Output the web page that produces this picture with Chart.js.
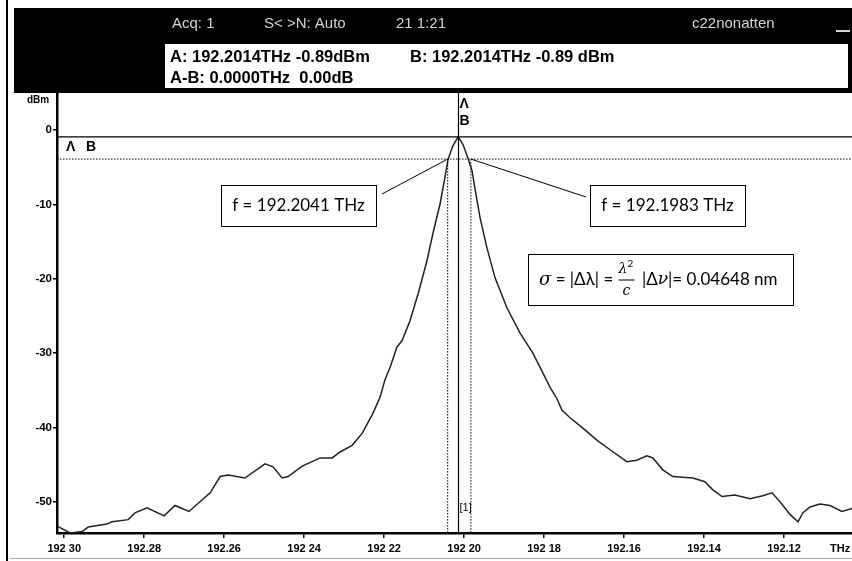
<!DOCTYPE html>
<html>
<head>
<meta charset="utf-8">
<script src="https://cdn.jsdelivr.net/npm/chart.js@4/dist/chart.umd.min.js"></script>
<style>
  html, body { margin: 0; padding: 0; background: #fff; }
  #wrap { width: 852px; height: 561px; position: relative; }
</style>
</head>
<body>
<div id="wrap"><canvas id="chartCanvas"></canvas></div>
<script>
// --- spectrum (THz, dBm) ---
const freq = [
  192.3015, 192.2985, 192.2955, 192.2940, 192.2893, 192.2880, 192.2840, 192.2823, 192.2793, 192.2750,
  192.2723, 192.2688, 192.2635, 192.2610, 192.2590, 192.2548, 192.2498, 192.2478, 192.2455, 192.2440,
  192.2405, 192.2360, 192.2330, 192.2310, 192.2280, 192.2255, 192.2228, 192.2210, 192.2198, 192.2185,
  192.2168, 192.2155, 192.2135, 192.2115, 192.2093, 192.2078, 192.2060, 192.2048, 192.2040, 192.2028,
  192.2015, 192.2003, 192.1990, 192.1980, 192.1973, 192.1960, 192.1943, 192.1923, 192.1893, 192.1860,
  192.1828, 192.1798, 192.1785, 192.1768, 192.1755, 192.1735, 192.1703, 192.1668, 192.1635, 192.1593,
  192.1568, 192.1543, 192.1528, 192.1503, 192.1478, 192.1428, 192.1398, 192.1378, 192.1355, 192.1323,
  192.1285, 192.1253, 192.1230, 192.1210, 192.1185, 192.1165, 192.1153, 192.1135, 192.1110, 192.1085,
  192.1055, 192.1030
];
const level = [
  -53.35, -54.2, -54.0, -53.4, -53.0, -52.7, -52.4, -51.5, -50.8, -51.9,
  -50.5, -51.3, -48.8, -46.6, -46.4, -46.8, -44.9, -45.3, -46.8, -46.6,
  -45.2, -44.1, -44.1, -43.3, -42.4, -40.8, -38.1, -35.9, -33.6, -31.9,
  -29.2, -28.3, -25.6, -22.0, -17.6, -13.9, -9.9, -6.4, -3.9, -2.1,
  -0.9, -1.9, -3.8, -5.5, -7.8, -11.8, -15.8, -19.8, -23.9, -27.3,
  -30.0, -33.2, -34.6, -36.1, -37.7, -38.7, -40.1, -41.7, -43.0, -44.6,
  -44.4, -43.8, -44.1, -45.7, -46.6, -46.8, -47.3, -48.4, -49.3, -49.1,
  -49.6, -49.2, -48.8, -50.0, -51.7, -52.7, -51.5, -50.7, -50.3, -50.5,
  -51.3, -50.9
];

const yTicks = [0, -10, -20, -30, -40, -50];
const xTicks = [192.30, 192.28, 192.26, 192.24, 192.22, 192.20, 192.18, 192.16, 192.14, 192.12];
const xTickLabels = ["192 30", "192.28", "192.26", "192 24", "192 22", "192 20", "192 18", "192.16", "192.14", "192.12"];

// markers
const markerFreq = 192.2014;   // A and B
const markerLevel = -0.89;
const halfLevel = -3.89;       // 3 dB down
const leftFreq = 192.2041;
const rightFreq = 192.1983;

const axisFont = "'Liberation Sans Narrow', 'Liberation Sans', Arial, sans-serif";
const noteFont = "Lato, 'Open Sans', sans-serif";

// draws the screen frame, the markers and the notes
const screenPlugin = {
  id: "screen",
  beforeDraw(chart) {
    const ctx = chart.ctx;
    ctx.save();
    ctx.fillStyle = "#fff";
    ctx.fillRect(0, 0, chart.width, chart.height);

    // header band
    ctx.fillStyle = "#000";
    ctx.fillRect(14, 8, 838, 85);
    ctx.fillStyle = "#d4d4d4";
    ctx.font = "15px " + axisFont;
    ctx.textBaseline = "middle";
    ctx.fillText("Acq: 1", 172, 24);
    ctx.fillText("S< >N: Auto", 264, 24);
    ctx.fillText("21 1:21", 396, 24);
    ctx.fillText("c22nonatten", 692, 24);
    ctx.fillRect(836, 30, 14, 2);

    // white readout box
    ctx.fillStyle = "#fff";
    ctx.fillRect(165, 44, 683, 44);
    ctx.fillStyle = "#000";
    ctx.font = "bold 16.5px " + axisFont;
    ctx.fillText("A: 192.2014THz -0.89dBm", 170, 57);
    ctx.fillText("B: 192.2014THz -0.89 dBm", 410, 57);
    ctx.fillText("A-B: 0.0000THz  0.00dB", 170, 78);

    // left frame line and bottom rule
    ctx.fillRect(6, 0, 2, 561);
    ctx.fillStyle = "#b0b0b0";
    ctx.fillRect(10, 558, 842, 1);

    ctx.fillStyle = "#000";
    ctx.font = "bold 10px " + axisFont;
    ctx.fillText("dBm", 27, 100);
    ctx.restore();
  },
  afterDatasetsDraw(chart) {
    const ctx = chart.ctx;
    const xs = chart.scales.x, ys = chart.scales.y;
    const area = chart.chartArea;
    const xm = xs.getPixelForValue(markerFreq);
    const ym = ys.getPixelForValue(markerLevel);
    const yh = ys.getPixelForValue(halfLevel);
    const xl = xs.getPixelForValue(leftFreq);
    const xr = xs.getPixelForValue(rightFreq);
    ctx.save();
    ctx.strokeStyle = "#000";

    // solid marker lines
    ctx.lineWidth = 1.2;
    ctx.beginPath();
    ctx.moveTo(area.left, ym); ctx.lineTo(area.right, ym);
    ctx.moveTo(xm, area.top); ctx.lineTo(xm, area.bottom);
    ctx.stroke();

    // dotted 3 dB lines
    ctx.setLineDash([1.5, 1.5]);
    ctx.lineWidth = 1;
    ctx.beginPath();
    ctx.moveTo(area.left, yh); ctx.lineTo(area.right, yh);
    ctx.moveTo(xl, yh); ctx.lineTo(xl, area.bottom);
    ctx.moveTo(xr, yh); ctx.lineTo(xr, area.bottom);
    ctx.stroke();
    ctx.setLineDash([]);

    // marker labels
    ctx.fillStyle = "#000";
    ctx.font = "bold 14px " + axisFont;
    ctx.textBaseline = "middle";
    ctx.fillText("\u039B", xm + 1, 104);
    ctx.fillText("B", xm + 1, 121);
    ctx.fillText("\u039B", 66, 147);
    ctx.fillText("B", 86, 147);
    ctx.font = "11px " + axisFont;
    ctx.fillText("[1]", xm + 1, 508);

    // x unit
    ctx.font = "bold 11px " + axisFont;
    ctx.fillText("THz", 830, 549);

    // leader lines
    ctx.lineWidth = 1;
    ctx.beginPath();
    ctx.moveTo(382, 194); ctx.lineTo(xl, yh);
    ctx.moveTo(xr, yh); ctx.lineTo(586, 197);
    ctx.stroke();

    // note boxes
    ctx.fillStyle = "#fff";
    ctx.lineWidth = 1;
    [[221, 185, 155, 41], [590, 185, 155, 41], [528, 254, 265, 51]].forEach(b => {
      ctx.fillRect(b[0], b[1], b[2], b[3]);
      ctx.strokeRect(b[0] + 0.5, b[1] + 0.5, b[2], b[3]);
    });
    ctx.fillStyle = "#000";
    ctx.font = "17px " + noteFont;
    ctx.textAlign = "center";
    ctx.fillText("f = 192.2041 THz", 298.5, 206);
    ctx.fillText("f = 192.1983 THz", 667.5, 206);

    // sigma formula
    ctx.textAlign = "left";
    let x = 539;
    const yb = 280;
    const put = (t, f) => { ctx.font = f; ctx.fillText(t, x, yb); x += ctx.measureText(t).width; };
    put("\u03C3", "italic 18px 'DejaVu Serif', serif");
    put(" = |\u0394\u03BB| = ", "17px " + noteFont);
    // fraction lambda^2 / c
    const fx = x + 1;
    ctx.font = "italic 14px 'DejaVu Serif', serif";
    ctx.fillText("\u03BB", fx, yb - 11);
    ctx.font = "10px " + noteFont;
    ctx.fillText("2", fx + 9, yb - 16);
    ctx.beginPath();
    ctx.moveTo(fx, yb); ctx.lineTo(fx + 16, yb);
    ctx.stroke();
    ctx.font = "italic 14px 'DejaVu Serif', serif";
    ctx.fillText("c", fx + 4, yb + 11);
    x = fx + 19;
    put(" |\u0394", "17px " + noteFont);
    put("\u03BD", "italic 17px 'DejaVu Serif', serif");
    put("|= 0.04648 nm", "17px " + noteFont);
    ctx.restore();
  }
};

const ctx = document.getElementById("chartCanvas").getContext("2d");
new Chart(ctx, {
  type: "line",
  data: {
    datasets: [{
      data: freq.map((f, i) => ({ x: f, y: level[i] })),
      borderColor: "#222",
      borderWidth: 1.5,
      pointRadius: 0,
      tension: 0,
      fill: false
    }]
  },
  options: {
    responsive: true,
    maintainAspectRatio: false,
    animation: false,
    events: [],
    layout: { padding: { top: 93, left: 0, right: 0, bottom: 0 } },
    plugins: { legend: { display: false }, tooltip: { enabled: false } },
    scales: {
      x: {
        type: "linear",
        reverse: true,
        min: 192.103,
        max: 192.3018,
        afterBuildTicks: s => { s.ticks = xTicks.map(v => ({ value: v })); },
        afterFit: s => { s.height = 561 - 533; },
        ticks: {
          autoSkip: false,
          maxRotation: 0,
          padding: 4,
          color: "#000",
          font: { family: axisFont, size: 11, weight: "bold" },
          callback: (v, i) => xTickLabels[i]
        },
        grid: { display: true, drawOnChartArea: false, drawTicks: true, tickLength: 5, color: "#000", lineWidth: 1.5 },
        border: { display: true, color: "#000", width: 2.5 }
      },
      y: {
        min: -54.2,
        max: 5,
        afterBuildTicks: s => { s.ticks = yTicks.map(v => ({ value: v })); },
        afterFit: s => { s.width = 57; },
        ticks: {
          padding: 1,
          color: "#000",
          font: { family: axisFont, size: 11.5, weight: "bold" },
          callback: v => String(v)
        },
        grid: { display: true, drawOnChartArea: false, drawTicks: true, tickLength: 4, color: "#000", lineWidth: 1.5 },
        border: { display: true, color: "#000", width: 2.5 }
      }
    }
  },
  plugins: [screenPlugin]
});
</script>
</body>
</html>
